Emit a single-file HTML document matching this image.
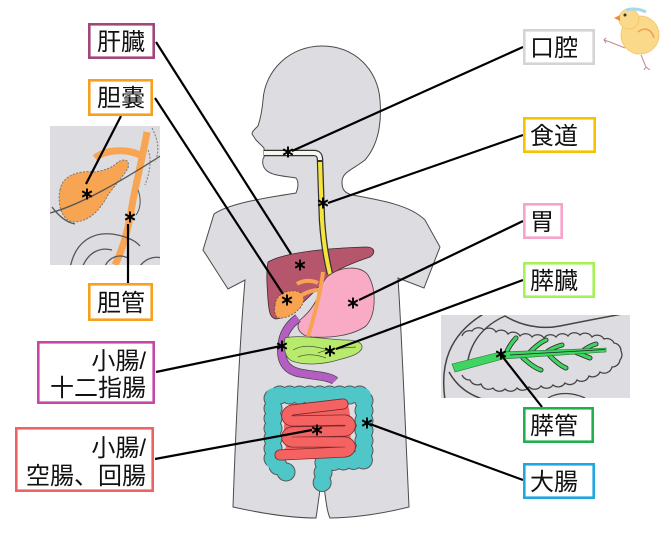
<!DOCTYPE html>
<html><head><meta charset="utf-8"><style>
html,body{margin:0;padding:0;background:#fff;}
svg{display:block;}
text{font-family:"Liberation Sans","Noto Sans CJK JP",sans-serif;font-size:24px;fill:#111;}
</style></head><body>
<svg width="671" height="537" viewBox="0 0 671 537" xmlns="http://www.w3.org/2000/svg">
<rect width="671" height="537" fill="#fff"/>

<!-- body -->
<path d="M264,148 C262,146 258,142 256,140 L252,134 C252,131 256,128 258,126 C260,120 262,112 263,100 C265,70 290,46 322,46 C355,46 378,70 380,100 C382,125 378,145 365,160 C352,170 342,172 342,182 C342,190 345,193 352,195 C380,200 410,205 425,220 L440,247 L424,288 L398,278 C402,340 405,420 409,507 C385,513 355,518 330,518 C326,510 325,490 322,472 C320,490 318,505 316,518 C290,518 260,513 233,507 C236,420 240,340 245,280 L228,289 L203,250 L214,214 C230,203 270,197 296,193 C298,188 299,182 296,178 C285,176 272,176 266,170 C262,166 262,160 264,157 Z" fill="#dddde1" stroke="#4a4a4a" stroke-width="1"/>

<!-- liver -->
<path d="M268,262 C285,252 330,248 366,247 C375,247 376,253 370,257 C355,262 340,268 330,275 C320,285 312,295 300,305 C292,312 285,318 276,319 C270,318 269,312 268,300 C267,285 266,272 268,262 Z" fill="#b5566d" stroke="#3a2a2a" stroke-width="0.8"/>

<!-- esophagus -->
<path d="M264,153 L314,153 Q320,153 320,160 L322,220 Q324,250 330,274" fill="none" stroke="#333" stroke-width="6.5"/>
<path d="M264,153 L314,153 Q320,153 320,160" fill="none" stroke="#f6f6f0" stroke-width="4"/>
<path d="M320,162 L322,220 Q324,250 330,274" fill="none" stroke="#f5e43a" stroke-width="4"/>

<!-- stomach -->
<path d="M327,277 C340,266 360,265 368,275 C377,290 376,315 366,326 C352,336 330,338 312,337 C300,336 295,328 300,320 C310,312 318,300 320,290 C322,284 324,280 327,277 Z" fill="#f9abc6" stroke="#444" stroke-width="0.8"/>

<!-- gallbladder + ducts -->
<path d="M275,305 C276,295 285,290 296,291 C305,293 306,300 300,308 C294,315 285,319 278,318 C275,316 274,311 275,305 Z" fill="#f7a352" stroke="#6a4a3a" stroke-width="0.8" stroke-dasharray="2,1.5"/>
<g fill="none" stroke="#f7a352" stroke-width="4">
<path d="M297,284 C303,280 312,280 318,283"/>
<path d="M300,296 C307,292 313,290 318,290"/>
<path d="M323,272 C321,290 316,310 308,337"/>
</g>

<!-- duodenum -->
<path d="M298,318 C290,324 283,333 282,345 C280,360 285,370 300,373 C315,376 330,376 335,381" fill="none" stroke="#444" stroke-width="9"/>
<path d="M298,318 C290,324 283,333 282,345 C280,360 285,370 300,373 C315,376 330,376 335,381" fill="none" stroke="#b45ec4" stroke-width="7.5"/>

<!-- pancreas -->
<path d="M285,338 C300,334 330,340 345,340 C355,340 363,342 362,348 C360,355 345,358 338,360 C325,364 305,366 292,361 C285,358 283,348 285,338 Z" fill="#b8ea6c" stroke="#555" stroke-width="0.8"/>
<path d="M293,350 C303,344 315,346 328,350 M318,353 C330,348 345,348 356,347 M298,357 C308,353 318,355 326,358" fill="none" stroke="#4a5a3a" stroke-width="0.7"/>

<!-- large intestine -->
<g fill="none" stroke-linecap="round" stroke-linejoin="round">
<path d="M286,472 L273,462 L273,395 L364,395 L364,460 L324,462 L322,484" stroke="#555" stroke-width="19" stroke-dasharray="0 10"/>
<path d="M286,472 L273,462 L273,395 L364,395 L364,460 L324,462 L322,484" stroke="#4fc6c8" stroke-width="17" stroke-dasharray="0 10"/>
<path d="M286,472 L273,462 L273,395 L364,395 L364,460 L324,462 L322,484" stroke="#4fc6c8" stroke-width="13.5"/>
</g>

<!-- small intestine -->
<path d="M290,404 L345,400 C352,402 353,452 346,456 L282,458 C278,456 279,451 286,448 C283,430 283,412 290,404 Z" fill="#f46262"/>
<g fill="none" stroke-linecap="round" stroke-linejoin="round">
<path d="M343,404 L292,410 C285,412 285,420 292,421 L345,420 C352,421 352,430 345,431 L292,432 C285,433 285,441 292,442 L345,442 C352,443 352,451 345,452 L280,455" stroke="#7a2a2a" stroke-width="11"/>
<path d="M343,404 L292,410 C285,412 285,420 292,421 L345,420 C352,421 352,430 345,431 L292,432 C285,433 285,441 292,442 L345,442 C352,443 352,451 345,452 L280,455" stroke="#f46262" stroke-width="9.4"/>
</g>

<!-- gallbladder inset -->
<rect x="50" y="126" width="110" height="139" fill="#dddde1"/>
<svg x="50" y="126" width="110" height="139" viewBox="50 126 110 139" overflow="hidden">
<path d="M60,190 C62,176 78,170 95,172 C105,170 112,168 118,162 C125,158 130,160 128,168 C122,178 115,185 108,195 C100,210 90,221 75,222 C62,222 57,205 60,190 Z" fill="#f7a552" stroke="#777" stroke-width="1" stroke-dasharray="2,1.5"/>
<path d="M95,158 C105,150 125,148 140,155" fill="none" stroke="#f7a552" stroke-width="7"/>
<path d="M147,132 C143,155 138,175 133,200 C130,220 125,245 115,265" fill="none" stroke="#f7a552" stroke-width="7"/>
<path d="M50,213 C80,205 120,182 162,155" fill="none" stroke="#555" stroke-width="1.3"/>
<path d="M52,207 C58,215 65,222 75,224" fill="none" stroke="#555" stroke-width="1.3"/>
<path d="M70,268 C75,242 92,232 112,234 C125,236 135,240 140,246" fill="none" stroke="#555" stroke-width="1.3"/>
<path d="M82,268 C88,252 100,247 112,250" fill="none" stroke="#555" stroke-width="1.3"/>
<path d="M105,266 C110,256 120,254 128,258 M140,266 C146,258 155,256 162,258" fill="none" stroke="#555" stroke-width="1.3"/>
<path d="M152,128 C158,140 160,150 155,162 M148,150 C152,160 150,172 145,185" fill="none" stroke="#777" stroke-width="1" stroke-dasharray="2,1.5"/>
<path d="M138,190 C142,200 140,210 136,215" fill="none" stroke="#555" stroke-width="1"/>
</svg>

<!-- pancreas inset -->
<rect x="441" y="315" width="189" height="83" fill="#dddde1"/>
<svg x="441" y="315" width="189" height="83" viewBox="441 315 189 83" overflow="hidden">
<path d="M445,400 C440,365 448,335 485,313" fill="none" stroke="#444" stroke-width="1.5"/>
<path d="M468,360 C472,340 485,325 505,316 C520,325 540,330 560,326 C580,322 600,318 628,313" fill="none" stroke="#444" stroke-width="1.5"/>
<path d="M449,372 C458,388 470,395 485,400" fill="none" stroke="#444" stroke-width="1.5"/>
<path d="M462,336 A8,8 0 0 1 472,331 A8,8 0 0 1 484,330 A8,8 0 0 1 496,332 A8,8 0 0 1 508,334 A8,8 0 0 1 520,336 A8,8 0 0 1 532,337 A8,8 0 0 1 544,338 A8,8 0 0 1 556,337 A8,8 0 0 1 568,336 A8,8 0 0 1 580,335 A8,8 0 0 1 592,337 A8,8 0 0 1 604,339 A8,8 0 0 1 614,343 A8,8 0 0 1 621,351 A8,8 0 0 1 620,360 A8,8 0 0 1 612,367 A8,8 0 0 1 600,372 A8,8 0 0 1 589,376 A8,8 0 0 1 577,380 A8,8 0 0 1 565,383 A8,8 0 0 1 553,385 A8,8 0 0 1 541,386 A8,8 0 0 1 529,387 A8,8 0 0 1 517,388 A8,8 0 0 1 505,389 A8,8 0 0 1 493,388 A8,8 0 0 1 481,384 A8,8 0 0 1 470,380 A8,8 0 0 1 462,375" fill="none" stroke="#444" stroke-width="1.3"/>
<path d="M548,398 C558,392 572,392 585,398" fill="none" stroke="#444" stroke-width="1.3"/>
<g stroke-linecap="round" fill="none">
<path d="M505,356 C508,348 512,342 516,338 M530,352 C536,346 541,342 546,340 M548,351 C553,348 558,346 562,345 M523,358 C530,364 535,368 541,370 M550,356 C556,362 561,366 566,368 M575,352 C580,354 585,356 590,358 M584,350 C588,347 592,345 596,344" stroke="#333" stroke-width="5"/>
<path d="M505,356 C508,348 512,342 516,338 M530,352 C536,346 541,342 546,340 M548,351 C553,348 558,346 562,345 M523,358 C530,364 535,368 541,370 M550,356 C556,362 561,366 566,368 M575,352 C580,354 585,356 590,358 M584,350 C588,347 592,345 596,344" stroke="#3ed660" stroke-width="3.2"/>
</g>
<path d="M452,364 L500,352 L606,348 L606,352 L503,359 L455,372 Z" fill="#3ed660" stroke="#2a6a3a" stroke-width="0.6"/>
<path d="M510,355 L605,349.5" stroke="#222" stroke-width="0.8"/>
</svg>

<!-- connector lines -->
<g stroke="#000" stroke-width="2.2" fill="none">
<line x1="156" y1="42" x2="291" y2="254"/>
<line x1="155" y1="98" x2="283" y2="294"/>
<line x1="121" y1="116" x2="86" y2="184"/>
<line x1="128" y1="224" x2="128" y2="283"/>
<line x1="523" y1="47" x2="292" y2="151"/>
<line x1="523" y1="135" x2="328" y2="203"/>
<line x1="523" y1="221" x2="359" y2="300"/>
<line x1="523" y1="280" x2="336" y2="349"/>
<line x1="156" y1="372" x2="281" y2="346"/>
<line x1="155" y1="459" x2="312" y2="430"/>
<line x1="542" y1="407" x2="502" y2="356"/>
<line x1="523" y1="480" x2="370" y2="424"/>
</g>

<!-- asterisks -->
<g stroke="#000" stroke-width="1.9" fill="none">
<path transform="translate(288,152)" d="M0,-5.5V5.5M-4.8,-2.75L4.8,2.75M-4.8,2.75L4.8,-2.75"/>
<path transform="translate(323,203)" d="M0,-5.5V5.5M-4.8,-2.75L4.8,2.75M-4.8,2.75L4.8,-2.75"/>
<path transform="translate(300,265)" d="M0,-5.5V5.5M-4.8,-2.75L4.8,2.75M-4.8,2.75L4.8,-2.75"/>
<path transform="translate(287,300)" d="M0,-5.5V5.5M-4.8,-2.75L4.8,2.75M-4.8,2.75L4.8,-2.75"/>
<path transform="translate(353,303)" d="M0,-5.5V5.5M-4.8,-2.75L4.8,2.75M-4.8,2.75L4.8,-2.75"/>
<path transform="translate(282,346)" d="M0,-5.5V5.5M-4.8,-2.75L4.8,2.75M-4.8,2.75L4.8,-2.75"/>
<path transform="translate(330,351)" d="M0,-5.5V5.5M-4.8,-2.75L4.8,2.75M-4.8,2.75L4.8,-2.75"/>
<path transform="translate(317,430)" d="M0,-5.5V5.5M-4.8,-2.75L4.8,2.75M-4.8,2.75L4.8,-2.75"/>
<path transform="translate(367,423)" d="M0,-5.5V5.5M-4.8,-2.75L4.8,2.75M-4.8,2.75L4.8,-2.75"/>
<path transform="translate(87,194)" d="M0,-5.5V5.5M-4.8,-2.75L4.8,2.75M-4.8,2.75L4.8,-2.75"/>
<path transform="translate(130,217)" d="M0,-5.5V5.5M-4.8,-2.75L4.8,2.75M-4.8,2.75L4.8,-2.75"/>
<path transform="translate(501,354)" d="M0,-5.5V5.5M-4.8,-2.75L4.8,2.75M-4.8,2.75L4.8,-2.75"/>
</g>

<!-- label boxes -->
<g fill="#fff" stroke-width="2.6">
<rect x="89.3" y="24.3" width="64.4" height="33.4" stroke="#a3477a"/>
<rect x="89.3" y="80.3" width="62.4" height="34.4" stroke="#f7a01f"/>
<rect x="89.3" y="284.3" width="62.4" height="35.4" stroke="#f7a01f"/>
<rect x="38.3" y="342.3" width="115.4" height="60.4" stroke="#c548a8"/>
<rect x="16.3" y="428.3" width="136.4" height="62.4" stroke="#f06262"/>
<rect x="524.3" y="30.3" width="69.4" height="33.4" stroke="#d4d4d4"/>
<rect x="524.3" y="118.3" width="70.4" height="33.4" stroke="#f7c200"/>
<rect x="524.3" y="204.3" width="37.4" height="33.4" stroke="#f7a4c8"/>
<rect x="524.3" y="263.3" width="69.4" height="33.4" stroke="#a6f05a"/>
<rect x="524.3" y="408.3" width="68.4" height="33.4" stroke="#22b04f"/>
<rect x="524.3" y="464.3" width="69.4" height="33.4" stroke="#1fa8e0"/>
</g>

<g>
<text x="97" y="50">肝臓</text>
<text x="97" y="106">胆嚢</text>
<text x="97" y="311">胆管</text>
<text x="146" y="369" text-anchor="end">小腸/</text>
<text x="146" y="396" text-anchor="end">十二指腸</text>
<text x="146" y="456" text-anchor="end">小腸/</text>
<text x="146" y="484" text-anchor="end">空腸、回腸</text>
<text x="530" y="56">口腔</text>
<text x="530" y="144">食道</text>
<text x="530" y="230">胃</text>
<text x="530" y="289">膵臓</text>
<text x="530" y="434">膵管</text>
<text x="530" y="490">大腸</text>
</g>

<!-- chick -->
<g>
<path d="M625,48 L610,42 L604,40 M606,38 L604,40 L606,43" fill="none" stroke="#c08a8a" stroke-width="1"/>
<path d="M641,55 L646,67 L650,70 M644,70 L646,67" fill="none" stroke="#c08a8a" stroke-width="1"/>
<ellipse cx="640" cy="35" rx="19" ry="19" fill="#fbd98a" stroke="#f4c870" stroke-width="1"/>
<circle cx="629" cy="19" r="10" fill="#fbd98a" stroke="#f4c870" stroke-width="1"/>
<path d="M620,15 L614,18 L620,21 Z" fill="#f08c40"/>
<circle cx="625" cy="15" r="1.5" fill="#333"/>
<path d="M626,10 C632,8 640,9 646,12" fill="none" stroke="#a8d8ea" stroke-width="3"/>
<path d="M638,32 C645,26 652,30 654,38" fill="none" stroke="#f0a050" stroke-width="1.5"/>
</g>
</svg>
</body></html>
